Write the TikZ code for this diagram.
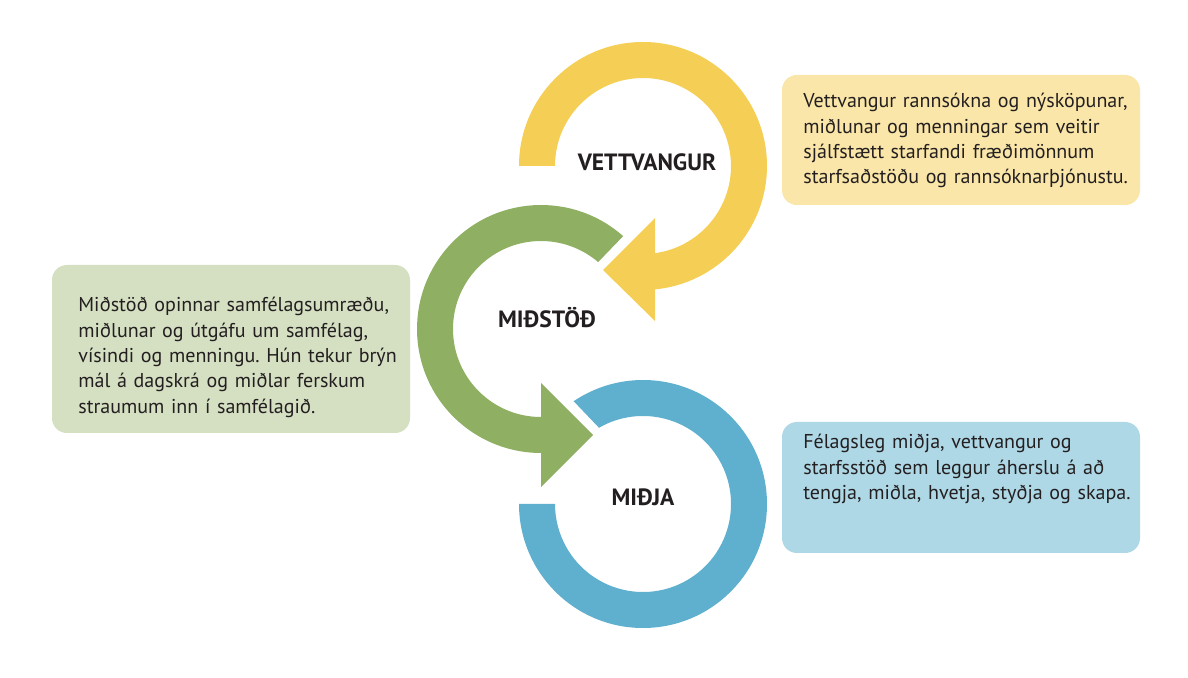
\documentclass[tikz,border=0pt]{standalone}
\usepackage{fontspec}
\setmainfont{PT Sans}
\frenchspacing
\definecolor{ringyellow}{HTML}{F5CE55}
\definecolor{boxyellow}{HTML}{FAE6A8}
\definecolor{ringgreen}{HTML}{8FB062}
\definecolor{boxgreen}{HTML}{D5E0C2}
\definecolor{ringblue}{HTML}{5FB0CF}
\definecolor{boxblue}{HTML}{AFD8E6}
\definecolor{textdark}{HTML}{231F20}
\begin{document}
\begin{tikzpicture}[x=0.02cm, y=0.02cm,
  ringlabel/.style={font=\fontsize{13.4}{15}\selectfont\bfseries, text=textdark, anchor=base},
  desc/.style={font=\fontsize{11.4}{14.4}\selectfont, text=textdark, align=left, text width=6.8cm,
    anchor=base west, inner sep=0pt},
  box/.style={rounded corners=8.5pt}]
\useasboundingbox (0,0) rectangle (1188,677);

% Ring centres
\coordinate (yc) at (643,511);
\coordinate (gc) at (541,348);
\coordinate (bc) at (643,173);

% Yellow ring, arrow head pointing left
\fill[ringyellow] ([shift={(180:124)}]yc) arc[start angle=180, end angle=-84.45, radius=124]
  -- ([shift={(-82.16:88)}]yc) arc[start angle=-82.16, end angle=180, radius=88] -- cycle;
\fill[ringyellow] (655,459) -- (603,407) -- (655,356) -- cycle;

% Green ring, arrow head pointing right
\fill[ringgreen] ([shift={(48.5:124)}]gc) arc[start angle=48.5, end angle=270, radius=124]
  -- ([shift={(270:88)}]gc) arc[start angle=270, end angle=49.5, radius=88] -- cycle;
\fill[ringgreen] (541,294) -- (593,242) -- (541,190) -- cycle;

% Blue ring
\fill[ringblue] ([shift={(180:124)}]bc) arc[start angle=180, end angle=484, radius=124]
  -- ([shift={(120:88)}]bc) arc[start angle=480, end angle=180, radius=88] -- cycle;

% Ring labels
\node[ringlabel] (vettvangur) at (647,506) {VETTVANGUR};
\node[ringlabel] (midstod) at (547,349) {MIÐSTÖÐ};
\node[ringlabel] (midja) at (643,172) {MIÐJA};

% Boxes
\fill[box, boxyellow] (782,602) rectangle (1140,472);
\fill[box, boxgreen] (52,412) rectangle (410,244);
\fill[box, boxblue] (782,255) rectangle (1140,124);

% Box texts (anchored at the first baseline)
\node[desc] (vtext) at (803,569) {Vettvangur rannsókna og nýsköpunar,\\miðlunar og menningar sem veitir\\sjálfstætt starfandi fræðimönnum\\starfsaðstöðu og rannsóknarþjónustu.};
\node[desc] (mtext) at (78,365) {Miðstöð opinnar samfélagsumræðu,\\miðlunar og útgáfu um samfélag,\\vísindi og menningu. Hún tekur brýn\\mál á dagskrá og miðlar ferskum\\straumum inn í samfélagið.};
\node[desc] (jtext) at (803,228) {Félagsleg miðja, vettvangur og\\starfsstöð sem leggur áherslu á að\\tengja, miðla, hvetja, styðja og skapa.};
\end{tikzpicture}
\end{document}
